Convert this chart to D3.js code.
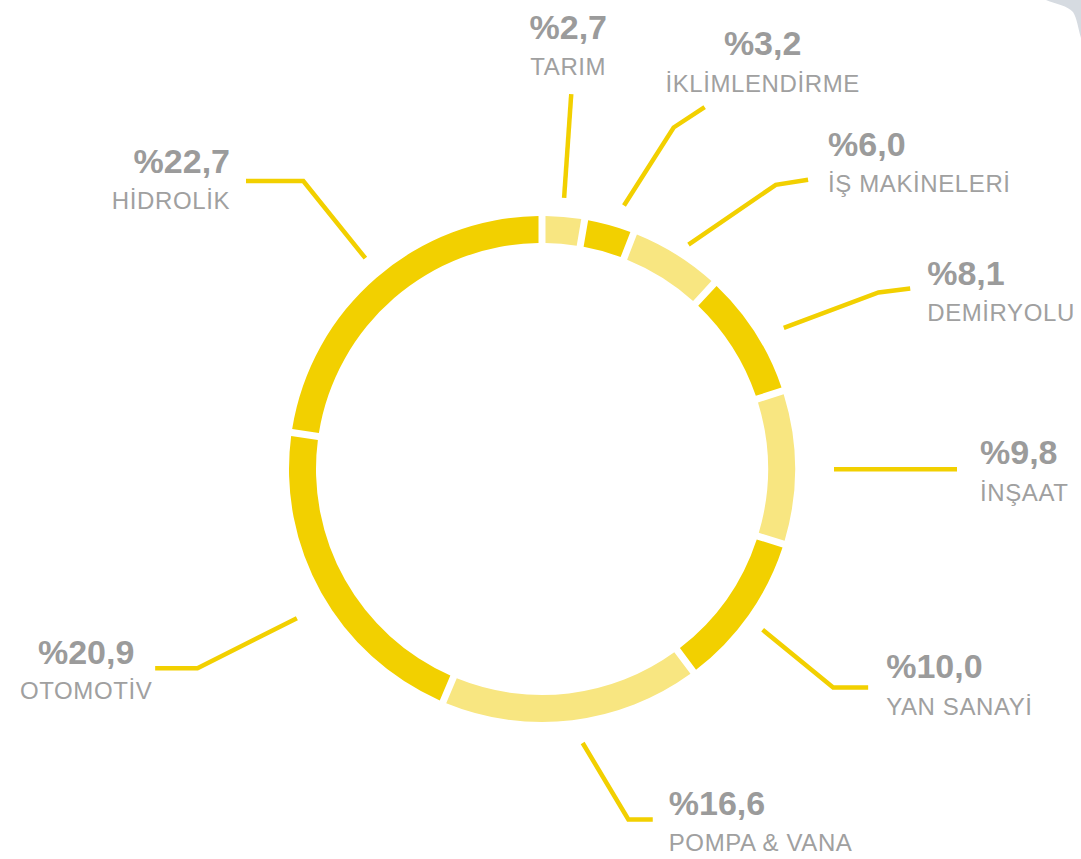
<!DOCTYPE html>
<html>
<head>
<meta charset="utf-8">
<script src="https://cdn.jsdelivr.net/npm/d3@7"></script>
<style>
  html, body { margin: 0; padding: 0; background: #ffffff; }
  svg { display: block; }
</style>
</head>
<body>
<svg id="chart" width="1081" height="859"></svg>
<script>
// ---- data ----
const categories = ["TARIM", "İKLİMLENDİRME", "İŞ MAKİNELERİ", "DEMİRYOLU", "İNŞAAT", "YAN SANAYİ", "POMPA & VANA", "OTOMOTİV", "HİDROLİK"];
const values = [2.7, 3.2, 6.0, 8.1, 9.8, 10.0, 16.6, 20.9, 22.7];
const valueLabels = ["%2,7", "%3,2", "%6,0", "%8,1", "%9,8", "%10,0", "%16,6", "%20,9", "%22,7"];

// ---- style / layout (kept apart from data) ----
const tones = ["light", "dark", "light", "dark", "light", "dark", "light", "dark", "dark"];
const colors = { dark: "#F2D000", light: "#F8E681" };
// leader layout: angle offsets (deg) from slice mid-angle, radii, final segment, text placement
const leaderLayout = [
  { a0: -0.2, r0: 272, a1: -0.4, r1: 376, ex: 0,     ey: 0,     anchor: "middle", tx: -3, py: -55,  ly: -19 },
  { a0: 1.8,  r0: 276, a1: 5.6,  r1: 366, ex: 31,    ey: -20.4, anchor: "middle", tx: 58, py: -52,  ly: -15.6 },
  { a0: 1.1,  r0: 268, a1: 7.4,  r1: 368, ex: 32.3,  ey: -5,    anchor: "start",  tx: 20, py: -24,  ly: 12 },
  { a0: 2.3,  r0: 280, a1: 4.9,  r1: 380, ex: 31.7,  ey: -4,    anchor: "start",  tx: 17, py: -3,   ly: 33 },
  { a0: 0.4,  r0: 292, a1: 0.4,  r1: 415, ex: 0,     ey: 0,     anchor: "start",  tx: 23, py: -5,   ly: 32 },
  { a0: 0.8,  r0: 273, a1: 1.6,  r1: 364, ex: 35,    ey: 0,     anchor: "start",  tx: 18, py: -9,   ly: 28 },
  { a0: -1.6, r0: 277, a1: -7.0, r1: 361, ex: 24.4,  ey: 0,     anchor: "start",  tx: 16, py: -4.5, ly: 31 },
  { a0: -2.0, r0: 287, a1: -0.7, r1: 398, ex: -42.3, ey: 0,     anchor: "middle", tx: -69, py: -4,  ly: 31 },
  { a0: 0.9,  r0: 275, a1: 1.2,  r1: 374, ex: -57.3, ey: 0,     anchor: "end",    tx: -16, py: -8,  ly: 28 }
];

const cx = 542, cy = 469;
const outerR = 253, innerR = 226, gap = 7;

const svg = d3.select("#chart");

// decorative background shape in the top-right corner
svg.append("path")
  .attr("d", "M1046,0 C1056,4 1068,6 1073,12 C1077,18 1078,28 1081,38 L1081,0 Z")
  .attr("fill", "#D6DBE1");

const g = svg.append("g").attr("transform", `translate(${cx},${cy})`);

const pie = d3.pie().sort(null).value(d => d);
const arcs = pie(values);

const arc = d3.arc()
  .innerRadius(innerR)
  .outerRadius(outerR)
  .padRadius(outerR)
  .padAngle(gap / outerR);

g.selectAll("path.slice")
  .data(arcs)
  .join("path")
  .attr("class", "slice")
  .attr("d", arc)
  .attr("fill", (d, i) => colors[tones[i]]);

const rad = deg => deg * Math.PI / 180;
const polar = (theta, r) => [r * Math.sin(theta), -r * Math.cos(theta)];

arcs.forEach((d, i) => {
  const L = leaderLayout[i];
  const mid = (d.startAngle + d.endAngle) / 2;
  const p0 = polar(mid + rad(L.a0), L.r0);
  const p1 = polar(mid + rad(L.a1), L.r1);
  const p2 = [p1[0] + L.ex, p1[1] + L.ey];
  const pts = (L.ex === 0 && L.ey === 0) ? [p0, p1] : [p0, p1, p2];
  g.append("path")
    .attr("d", d3.line()(pts))
    .attr("fill", "none")
    .attr("stroke", colors.dark)
    .attr("stroke-width", 4.5)
    .attr("stroke-linejoin", "miter");

  const end = pts[pts.length - 1];
  const tx = end[0] + L.tx;
  g.append("text")
    .attr("x", tx)
    .attr("y", end[1] + L.py)
    .attr("text-anchor", L.anchor)
    .attr("font-family", "'Liberation Sans', Arial, Helvetica, sans-serif")
    .attr("font-weight", "bold")
    .attr("font-size", 34)
    .attr("fill", "#9B9B9B")
    .text(valueLabels[i]);
  g.append("text")
    .attr("x", tx)
    .attr("y", end[1] + L.ly)
    .attr("text-anchor", L.anchor)
    .attr("font-family", "'Liberation Sans', Arial, Helvetica, sans-serif")
    .attr("font-size", 24)
    .attr("letter-spacing", "0.6px")
    .attr("fill", "#A0A0A0")
    .text(categories[i]);
});
</script>
</body>
</html>
